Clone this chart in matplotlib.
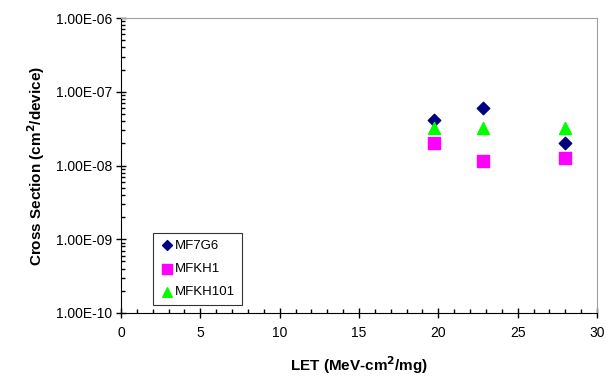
import matplotlib.pyplot as plt
from matplotlib.ticker import FixedLocator, LogLocator, NullFormatter, MultipleLocator

# Data
let_vals = [19.7, 22.8, 28.0]
mf7g6 = [4.2e-8, 6.0e-8, 2.0e-8]
mfkh1 = [2.0e-8, 1.15e-8, 1.27e-8]
mfkh101 = [3.2e-8, 3.25e-8, 3.25e-8]
y_ticks = [1e-10, 1e-9, 1e-8, 1e-7, 1e-6]
y_labels = ["1.00E-10", "1.00E-09", "1.00E-08", "1.00E-07", "1.00E-06"]

plt.rcParams["font.family"] = ["Liberation Sans", "DejaVu Sans"]

fig = plt.figure(figsize=(6.13, 3.82), dpi=100)
ax = fig.add_axes([121 / 613, 1 - 313 / 382, 476 / 613, 295 / 382])

ax.scatter(let_vals, mf7g6, marker="D", s=40, color="#000080", label="MF7G6", zorder=3)
ax.scatter(let_vals, mfkh1, marker="s", s=75, color="#ff00ff", label="MFKH1", zorder=3)
ax.scatter(let_vals, mfkh101, marker="^", s=75, color="#00ff00", label="MFKH101", zorder=3)

ax.set_yscale("log")
ax.set_ylim(1e-10, 1e-6)
ax.set_xlim(0, 30)

ax.yaxis.set_major_locator(FixedLocator(y_ticks))
ax.set_yticklabels(y_labels)
ax.yaxis.set_minor_locator(LogLocator(base=10, subs=range(2, 10)))
ax.yaxis.set_minor_formatter(NullFormatter())
ax.xaxis.set_major_locator(MultipleLocator(5))
ax.xaxis.set_minor_locator(MultipleLocator(1))

ax.tick_params(axis="both", which="major", direction="inout", length=7, width=1, labelsize=10)
ax.tick_params(axis="both", which="minor", direction="in", length=3, width=1)
ax.tick_params(axis="x", pad=6)
ax.tick_params(axis="y", pad=3)

for side in ["top", "right"]:
    ax.spines[side].set_color("#a0a0a0")
for side in ["left", "bottom"]:
    ax.spines[side].set_color("black")

ax.set_xlabel("LET (MeV-cm$^\\mathbf{2}$/mg)", fontsize=11, fontweight="bold", labelpad=10)
ax.set_ylabel("Cross Section (cm$^\\mathbf{2}$/device)", fontsize=11, fontweight="bold", labelpad=6)

leg = ax.legend(loc="lower left", bbox_to_anchor=(0.067, 0.027), borderaxespad=0,
                fontsize=9.5, frameon=True, fancybox=False, handletextpad=0.0,
                borderpad=0.5, labelspacing=0.85, handlelength=1.2, markerscale=0.8)
leg.get_frame().set_edgecolor("black")
leg.get_frame().set_linewidth(0.8)

fig.savefig("out.png", dpi=100)
